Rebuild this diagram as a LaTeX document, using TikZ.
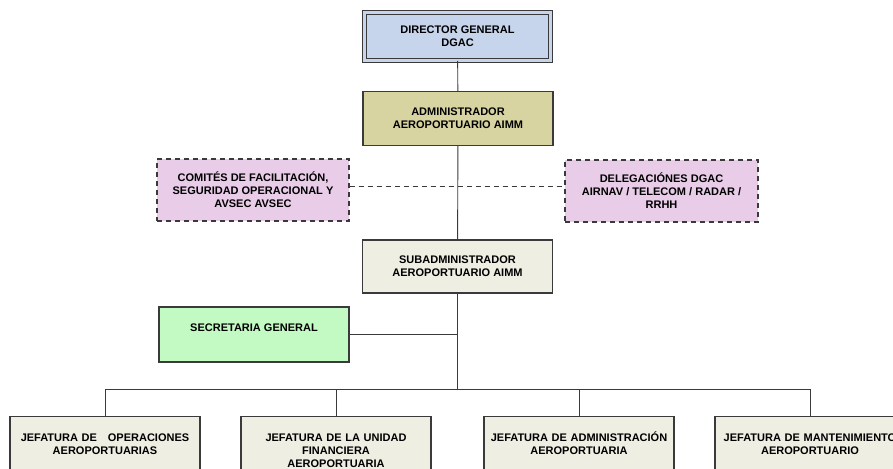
\documentclass[tikz,border=0pt]{standalone}
\usepackage{fontspec}
\setmainfont{Liberation Sans}
\definecolor{dirblue}{HTML}{C6D4EC}
\definecolor{admkhaki}{HTML}{D8D4A2}
\definecolor{comlilac}{HTML}{E8CCE8}
\definecolor{subbeige}{HTML}{EEEEE3}
\definecolor{secgreen}{HTML}{C3FAC3}
\definecolor{boxline}{HTML}{3A3A3A}

\begin{document}
\begin{tikzpicture}[x=1pt, y=-1pt,
		box/.style={draw=boxline, line width=1.1pt, align=center, inner sep=0pt,
			font=\bfseries\fontsize{11}{13}\selectfont, minimum width=190pt, minimum height=54pt},
		jefbox/.style={box, fill=subbeige, anchor=north, text width=184pt, inner xsep=3pt,
			inner ysep=3pt, text height=22pt, text depth=60pt},
		link/.style={draw=boxline, line width=0.9pt}]
	\useasboundingbox (0,0) rectangle (893,468);
	\clip (0,0) rectangle (893,468);

	\node[box, fill=dirblue, double=dirblue, double distance=3pt, line width=1pt,
		minimum width=186pt, minimum height=48pt] (dir) at (457.5, 36.5) {DIRECTOR GENERAL\\DGAC};
	\node[box, fill=admkhaki] (adm) at (458, 118.5) {ADMINISTRADOR\\AEROPORTUARIO AIMM};
	\node[box, fill=comlilac, dashed, dash pattern=on 5pt off 4pt, minimum width=192pt,
		minimum height=62pt] (com) at (253, 190) {COMITÉS DE FACILITACIÓN,\\SEGURIDAD OPERACIONAL Y\\AVSEC AVSEC};
	\node[box, fill=comlilac, dashed, dash pattern=on 5pt off 4pt, minimum width=193pt,
		minimum height=62pt] (del) at (661.5, 191) {DELEGACIÓNES DGAC\\AIRNAV / TELECOM / RADAR /\\RRHH};
	\node[box, fill=subbeige, minimum height=53pt] (sub) at (457.5, 266.5) {SUBADMINISTRADOR\\AEROPORTUARIO AIMM};
	\node[box, fill=secgreen, minimum height=55pt] (sec) at (254, 334.5) {SECRETARIA GENERAL\\\mbox{}};

	\node[jefbox] (j1) at (105, 416) {JEFATURA DE\ \ \ OPERACIONES\\AEROPORTUARIAS};
	\node[jefbox] (j2) at (336, 416) {JEFATURA DE LA UNIDAD\\FINANCIERA\\AEROPORTUARIA};
	\node[jefbox] (j3) at (579, 416) {JEFATURA DE ADMINISTRACIÓN\\AEROPORTUARIA};
	\node[jefbox] (j4) at (810, 416) {JEFATURA DE MANTENIMIENTO\\AEROPORTUARIO};

	\coordinate (bus) at (457.5, 389);

	\draw[link] (dir) -- (adm);
	\draw[link] (adm) -- (sub);
	\draw[link, dash pattern=on 5pt off 4pt] ([yshift=4pt]com.east) -- ([yshift=4pt]com.east -| del.west);
	\draw[link] (sub) -- (bus);
	\draw[link] (sec.east) -- (sec.east -| bus);
	\draw[link] (j1.north) -- (j1.north |- bus) -- (j4.north |- bus) -- (j4.north);
	\draw[link] (j2.north) -- (j2.north |- bus);
	\draw[link] (j3.north) -- (j3.north |- bus);
\end{tikzpicture}
\end{document}
